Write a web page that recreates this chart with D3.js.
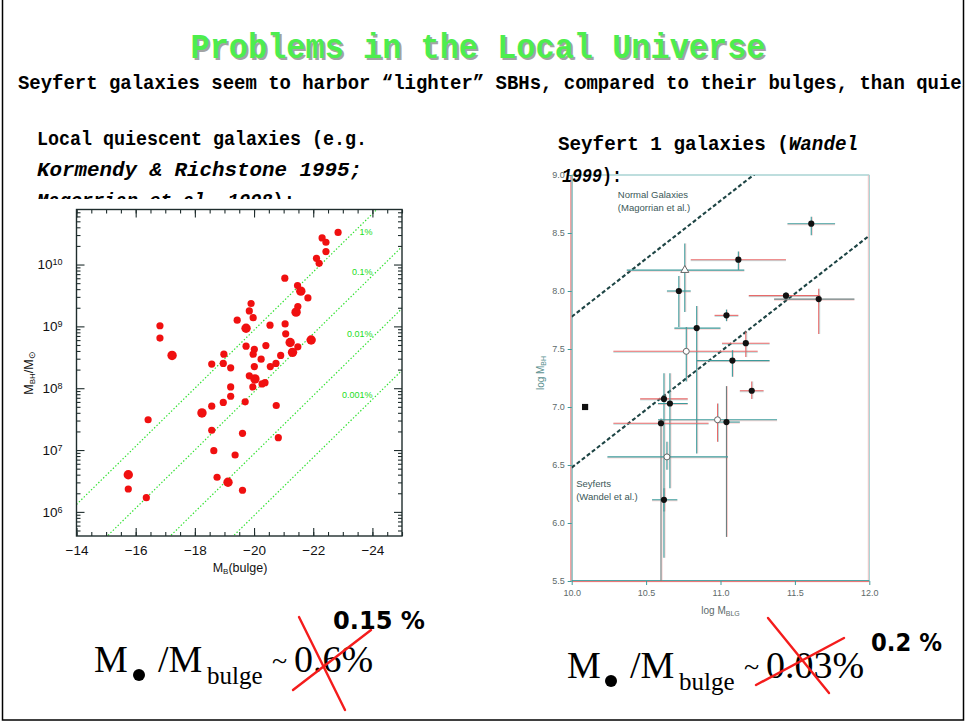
<!DOCTYPE html>
<html>
<head>
<meta charset="utf-8">
<script src="https://cdn.jsdelivr.net/npm/d3@7"></script>
<style>
  body { margin: 0; background: #fff; }
  svg { display: block; }
</style>
</head>
<body>
<script>
// ---------- Local quiescent galaxies (bulge magnitude vs. black-hole mass) ----------
const quiescentMB = [-22.84,-22.30,-22.43,-22.43,-22.11,-22.20,-21.04,-21.47,-21.58,-21.82,-21.48,-21.42,
  -19.90,-19.84,-19.97,-19.43,-20.54,-21.05,-19.73,
  -16.82,-16.82,-17.23,
  -21.07,-21.22,-21.93,-21.48,-21.30,
  -19.73,-20.01,-19.97,-20.40,-20.90,-20.24,
  -18.98,-18.96,-18.57,-19.21,-20.01,-20.55,-20.74,
  -19.84,-20.03,-19.96,-20.27,-20.37,
  -19.21,-19.21,-18.96,-18.57,-19.70,-20.75,
  -18.24,-16.42,-18.57,-19.61,-20.82,-18.64,-19.36,
  -15.75,-18.75,-19.12,-15.75,-16.36,-19.61];
const quiescentLogMbh = [10.52,10.43,10.36,10.21,10.10,10.02,9.78,9.66,9.57,9.46,9.32,9.23,
  9.37,9.25,9.14,9.10,9.02,9.04,8.97,
  9.01,8.81,8.53,
  8.88,8.74,8.78,8.67,8.58,
  8.68,8.63,8.55,8.69,8.53,8.47,
  8.55,8.40,8.39,8.33,8.35,8.35,8.40,
  8.20,8.15,8.02,8.07,8.09,
  8.02,7.87,7.77,7.71,7.78,7.72,
  7.60,7.49,7.32,7.27,7.20,6.99,6.92,
  6.60,6.56,6.48,6.37,6.23,6.35];
// 1 marks the galaxies plotted with the larger symbol
const quiescentBig = [0,0,0,0,0,0,0,0,1,0,0,1,
  0,0,0,0,0,0,1,
  0,0,1,
  0,1,1,0,1,
  0,0,0,0,0,0,
  0,0,0,0,0,0,0,
  0,1,0,0,0,
  0,0,0,0,0,0,
  1,0,0,0,0,0,0,
  1,0,1,0,0,0];
// constant M_BH / M_bulge lines; log M_bulge = zero + slope * (-M_B - 14)
const ratioValues = [0.01, 0.001, 0.0001, 0.00001];
const ratioLabels = ["1%", "0.1%", "0.01%", "0.001%"];
const bulgeMassZero = 8.12, bulgeMassSlope = 0.47;
const leftXMajor = [-14, -16, -18, -20, -22, -24];
const leftYMajor = [6, 7, 8, 9, 10];

// ---------- Seyfert 1 galaxies (Wandel 1999) ----------
const seyLogMblg  = [11.61, 11.12, 10.76, 10.72, 11.04, 10.84, 10.77, 11.17, 11.08, 11.44, 11.66, 11.21, 10.62, 10.66, 10.60, 10.98, 11.04, 10.64, 10.62];
const seyLogMbh   = [ 8.58,  8.27,  8.18,  8.00,  7.79,  7.68,  7.48,  7.55,  7.40,  7.96,  7.93,  7.14,  7.07,  7.03,  6.86,  6.89,  6.87,  6.57,  6.20];
const seyMblgLo   = [11.45, 10.80, 10.37, 10.64, 10.96, 10.69, 10.28, 11.01, 10.84, 11.19, 11.36, 11.13, 10.46, 10.58, 10.28, 10.58, 10.97, 10.24, 10.54];
const seyMblgHi   = [11.77, 11.44, 11.16, 10.80, 11.12, 11.00, 11.25, 11.33, 11.33, 11.67, 11.90, 11.29, 10.78, 10.78, 10.92, 11.38, 11.13, 11.05, 10.71];
const seyMbhLo    = [ 8.48,  8.18,  7.82,  7.69,  7.74,  6.60,  7.22,  7.43,  7.26,  7.92,  7.63,  7.07,  5.70,  6.30,  5.50,  6.70,  5.88,  6.46,  6.10];
const seyMbhHi    = [ 8.64,  8.34,  8.41,  8.13,  7.84,  7.87,  7.69,  7.65,  7.49,  7.99,  8.02,  7.22,  7.29,  7.29,  6.90,  7.03,  7.18,  6.70,  6.30];
const seyMarker   = ["dot","dot","tri","dot","dot","dot","open","dot","dot","dot","dot","dot","dot","dot","dot","open","dot","open","dot"];
const seyHColor   = ["t","r","t","t","r","t","r","r","t","r","g","r","r","t","r","t","t","t","t"];
const seyVColor   = ["t","t","t","t","t","t","t","r","t","t","r","r","t","t","g","r","g","t","t"];
const referencePoint = [10.09, 7.00];
const relationRatios = [0.006, 0.0003];
const relationLabels = [["Normal Galaxies", "(Magorrian et al.)"], ["Seyferts", "(Wandel et al.)"]];
const rightXTicks = [10.0, 10.5, 11.0, 11.5, 12.0];
const rightYTicks = [5.5, 6.0, 6.5, 7.0, 7.5, 8.0, 8.5, 9.0];

// ---------- page ----------
const W = 967, H = 724;
const mono = "'Liberation Mono','DejaVu Sans Mono',monospace";
const serif = "'Liberation Serif','Times New Roman',serif";
const sans = "'Liberation Sans',Arial,Helvetica,sans-serif";

const svg = d3.select("body").append("svg")
  .attr("width", W).attr("height", H)
  .style("font-family", sans);
svg.append("rect").attr("width", W).attr("height", H).attr("fill", "#fff");

const defs = svg.append("defs");
defs.append("clipPath").attr("id", "pageClip")
  .append("rect").attr("x", 0).attr("y", 0).attr("width", 963).attr("height", H);

// title with drop shadow
const titleText = "Problems in the Local Universe";
[["#a3a3a3", 2, 2], ["#4dee4d", 0, 0]].forEach(([c, dx, dy]) => {
  svg.append("text")
    .attr("x", 478 + dx).attr("y", 58 + dy)
    .attr("text-anchor", "middle")
    .attr("font-family", mono).attr("font-weight", "bold").attr("font-size", 35)
    .attr("textLength", 575).attr("lengthAdjust", "spacingAndGlyphs")
    .attr("fill", c).text(titleText);
});

// subtitle (runs past the right edge of the slide)
const subtitleText = "Seyfert galaxies seem to harbor \u201Clighter\u201D SBHs, compared to their bulges, than quiescent galaxies";
svg.append("text")
  .attr("clip-path", "url(#pageClip)")
  .attr("x", 18).attr("y", 89)
  .attr("font-family", mono).attr("font-weight", "bold").attr("font-size", 21)
  .attr("textLength", subtitleText.length * 11.37).attr("lengthAdjust", "spacingAndGlyphs")
  .attr("fill", "#000")
  .text(subtitleText);

// captions
function caption(x, y, parts, len) {
  const t = svg.append("text").attr("x", x).attr("y", y)
    .attr("font-family", mono).attr("font-weight", "bold").attr("font-size", 20.5).attr("fill", "#000");
  if (len) t.attr("textLength", len).attr("lengthAdjust", "spacingAndGlyphs");
  parts.forEach(([s, it]) => t.append("tspan").attr("font-style", it ? "italic" : "normal").text(s));
  return t;
}
caption(37, 145, [["Local quiescent galaxies (e.g.", false]], 330);
caption(37, 176, [["Kormendy & Richstone 1995;", true]], 325);
caption(37, 207, [["Magorrian et al. 1998", true], ["):", false]], 258);

// ================= Left figure =================
const gL = svg.append("g");
gL.append("rect").attr("x", 14).attr("y", 199).attr("width", 398).attr("height", 385).attr("fill", "#fff");

const L = { x0: 76.5, x1: 402, y0: 209.5, y1: 536 };
const xL = d3.scaleLinear().domain([-14, -25]).range([L.x0, L.x1]);
const yL = d3.scaleLog().domain([Math.pow(10, 5.61), Math.pow(10, 10.89)]).range([L.y1, L.y0]);
const frameL = "#1f2d2d";

defs.append("clipPath").attr("id", "clipL")
  .append("rect").attr("x", L.x0).attr("y", L.y0).attr("width", L.x1 - L.x0).attr("height", L.y1 - L.y0);

// constant-ratio lines
const logBulge = mb => bulgeMassZero + bulgeMassSlope * (-mb - 14);
const ratioLine = d3.line().x(d => xL(d[0])).y(d => yL(Math.pow(10, d[1])));
gL.append("g").attr("clip-path", "url(#clipL)")
  .selectAll("path").data(ratioValues).join("path")
  .attr("d", r => ratioLine([-14, -25].map(mb => [mb, logBulge(mb) + Math.log10(r)])))
  .attr("fill", "none").attr("stroke", "#2fe02f").attr("stroke-width", 1.2)
  .attr("stroke-dasharray", "1.4,2");

gL.selectAll("text.ratio").data(ratioValues).join("text")
  .attr("class", "ratio")
  .attr("x", xL(-24)).attr("text-anchor", "end")
  .attr("y", r => yL(Math.pow(10, Math.min(logBulge(-24) + Math.log10(r), 10.46))) - 1)
  .attr("font-size", 9).attr("fill", "#22dd22")
  .text((r, i) => ratioLabels[i]);

// data points
gL.append("g").selectAll("circle").data(quiescentMB).join("circle")
  .attr("cx", d => xL(d))
  .attr("cy", (d, i) => yL(Math.pow(10, quiescentLogMbh[i])))
  .attr("r", (d, i) => quiescentBig[i] ? 4.7 : 3.6)
  .attr("fill", "#f01010");

// frame
gL.append("rect").attr("x", L.x0).attr("y", L.y0).attr("width", L.x1 - L.x0).attr("height", L.y1 - L.y0)
  .attr("fill", "none").attr("stroke", frameL).attr("stroke-width", 1.4);

function tidy(g) {
  g.select(".domain").remove();
  g.selectAll(".tick line").attr("stroke", frameL).attr("stroke-width", 1.1);
}
const minorX = d3.range(-14, -25.01, -0.5);
const minorY = [];
for (let d = 5; d <= 10; d++) for (let m = 2; m <= 9; m++) {
  const v = m * Math.pow(10, d);
  if (Math.log10(v) > 5.61 && Math.log10(v) < 10.89) minorY.push(v);
}
const majorY = leftYMajor.map(e => Math.pow(10, e));

gL.append("g").attr("transform", `translate(0,${L.y1})`)
  .call(d3.axisBottom(xL).tickValues(minorX).tickSize(-4).tickFormat("")).call(tidy);
gL.append("g").attr("transform", `translate(0,${L.y0})`)
  .call(d3.axisTop(xL).tickValues(minorX).tickSize(-4).tickFormat("")).call(tidy);
gL.append("g").attr("transform", `translate(0,${L.y0})`)
  .call(d3.axisTop(xL).tickValues(leftXMajor).tickSize(-8).tickFormat("")).call(tidy);
const xAxisL = gL.append("g").attr("transform", `translate(0,${L.y1})`)
  .call(d3.axisBottom(xL).tickValues(leftXMajor).tickSize(-8).tickPadding(9)
    .tickFormat(d => "\u2212" + Math.abs(d)))
  .call(tidy);
xAxisL.selectAll(".tick text").attr("font-size", 13.5).attr("fill", "#111").attr("font-family", sans);

gL.append("g").attr("transform", `translate(${L.x0},0)`)
  .call(d3.axisLeft(yL).tickValues(minorY).tickSize(-4).tickFormat("")).call(tidy);
gL.append("g").attr("transform", `translate(${L.x1},0)`)
  .call(d3.axisRight(yL).tickValues(minorY).tickSize(-4).tickFormat("")).call(tidy);
gL.append("g").attr("transform", `translate(${L.x1},0)`)
  .call(d3.axisRight(yL).tickValues(majorY).tickSize(-8).tickFormat("")).call(tidy);
const yAxisL = gL.append("g").attr("transform", `translate(${L.x0},0)`)
  .call(d3.axisLeft(yL).tickValues(majorY).tickSize(-8).tickPadding(14).tickFormat(() => ""))
  .call(tidy);
yAxisL.selectAll(".tick text").each(function (d) {
  const t = d3.select(this).attr("font-size", 13.5).attr("fill", "#111").attr("font-family", sans);
  t.append("tspan").text("10");
  t.append("tspan").attr("dy", "-0.45em").attr("font-size", 9).text(Math.round(Math.log10(d)));
});

// axis titles
const xtL = gL.append("text").attr("x", 240).attr("y", 572).attr("text-anchor", "middle")
  .attr("font-size", 12.5).attr("fill", "#111");
xtL.append("tspan").text("M");
xtL.append("tspan").attr("dy", 2).attr("font-size", 8).text("B");
xtL.append("tspan").attr("dy", -2).text("(bulge)");

const ytL = gL.append("text").attr("transform", "translate(33,373) rotate(-90)")
  .attr("text-anchor", "middle").attr("font-size", 12.5).attr("fill", "#111");
ytL.append("tspan").text("M");
ytL.append("tspan").attr("dy", 2).attr("font-size", 8).text("BH");
ytL.append("tspan").attr("dy", -2).text("/M");
ytL.append("tspan").attr("dy", 2).attr("font-size", 9).text("\u2299");

// ================= Right figure =================
const gR = svg.append("g");
const R = { x0: 571.7, x1: 869.3, y0: 175, y1: 581 };
const xR = d3.scaleLinear().domain([10, 12]).range([R.x0, R.x1]);
const yR = d3.scaleLinear().domain([5.5, 9.0]).range([R.y1, R.y0]);
const teal = "#3d9b9b", pink = "#e86a6a", grey = "#6f7f7f";
const colorOf = { t: teal, r: pink, g: grey };
const ghostOf = { t: pink, r: teal, g: pink };

defs.append("clipPath").attr("id", "clipR")
  .append("rect").attr("x", R.x0).attr("y", R.y0).attr("width", R.x1 - R.x0).attr("height", R.y1 - R.y0);

// frame: top/right light, left/bottom with coloured fringes
gR.append("line").attr("x1", R.x0).attr("x2", R.x1).attr("y1", R.y0).attr("y2", R.y0).attr("stroke", "#a9d3d3").attr("stroke-width", 1.3);
gR.append("line").attr("x1", R.x1).attr("x2", R.x1).attr("y1", R.y0).attr("y2", R.y1).attr("stroke", "#a9d3d3").attr("stroke-width", 1.3);
gR.append("line").attr("x1", R.x1 - 1).attr("x2", R.x1 - 1).attr("y1", R.y0).attr("y2", R.y1).attr("stroke", "#f0b8b8").attr("stroke-width", 0.8);
gR.append("line").attr("x1", R.x0 - 0.8).attr("x2", R.x0 - 0.8).attr("y1", R.y0).attr("y2", R.y1).attr("stroke", pink).attr("stroke-width", 1);
gR.append("line").attr("x1", R.x0 + 0.4).attr("x2", R.x0 + 0.4).attr("y1", R.y0).attr("y2", R.y1).attr("stroke", teal).attr("stroke-width", 0.9);
gR.append("line").attr("x1", R.x0).attr("x2", R.x1).attr("y1", R.y1 + 0.6).attr("y2", R.y1 + 0.6).attr("stroke", pink).attr("stroke-width", 1);
gR.append("line").attr("x1", R.x0).attr("x2", R.x1).attr("y1", R.y1 - 0.5).attr("y2", R.y1 - 0.5).attr("stroke", teal).attr("stroke-width", 0.9);

function tidyR(g) {
  g.select(".domain").remove();
  g.selectAll(".tick line").attr("stroke", teal).attr("stroke-width", 1);
  g.selectAll(".tick text").attr("font-size", 9).attr("fill", "#5d6a6a").attr("font-family", sans);
}
gR.append("g").attr("transform", `translate(0,${R.y1})`)
  .call(d3.axisBottom(xR).tickValues(rightXTicks).tickSize(4).tickPadding(5).tickFormat(d3.format(".1f")))
  .call(tidyR);
gR.append("g").attr("transform", `translate(${R.x0},0)`)
  .call(d3.axisLeft(yR).tickValues(rightYTicks).tickSize(4).tickPadding(3).tickFormat(d3.format(".1f")))
  .call(tidyR);

// relations with constant M_BH / M_bulge
const relLine = d3.line().x(d => xR(d[0])).y(d => yR(d[1]));
gR.append("g").attr("clip-path", "url(#clipR)")
  .selectAll("path").data(relationRatios).join("path")
  .attr("d", r => relLine([10, 12].map(m => [m, m + Math.log10(r)])))
  .attr("fill", "none").attr("stroke", "#1d4444").attr("stroke-width", 2.1)
  .attr("stroke-dasharray", "4,2.4");

// relation labels
const labelAnchors = [[10.31, 8.80], [10.03, 6.31]];
relationLabels.forEach((lines, i) => {
  const t = gR.append("text").attr("x", xR(labelAnchors[i][0])).attr("y", yR(labelAnchors[i][1]))
    .attr("font-size", 9.5).attr("fill", "#3b5858");
  lines.forEach((s, k) => t.append("tspan").attr("x", xR(labelAnchors[i][0])).attr("dy", k ? 12.5 : 0).text(s));
});

// error bars
const bars = gR.append("g");
seyLogMblg.forEach((m, i) => {
  const hc = seyHColor[i], vc = seyVColor[i];
  const y = yR(seyLogMbh[i]), x = xR(m);
  // faint fringe then the bar itself
  bars.append("line").attr("x1", xR(seyMblgLo[i])).attr("x2", xR(seyMblgHi[i]))
    .attr("y1", y + 1).attr("y2", y + 1).attr("stroke", ghostOf[hc]).attr("stroke-opacity", 0.35).attr("stroke-width", 1);
  bars.append("line").attr("x1", xR(seyMblgLo[i])).attr("x2", xR(seyMblgHi[i]))
    .attr("y1", y).attr("y2", y).attr("stroke", colorOf[hc]).attr("stroke-width", 1.1);
  bars.append("line").attr("x1", x + 1).attr("x2", x + 1)
    .attr("y1", yR(seyMbhLo[i])).attr("y2", yR(seyMbhHi[i])).attr("stroke", ghostOf[vc]).attr("stroke-opacity", 0.35).attr("stroke-width", 1);
  bars.append("line").attr("x1", x).attr("x2", x)
    .attr("y1", yR(seyMbhLo[i])).attr("y2", yR(seyMbhHi[i])).attr("stroke", colorOf[vc]).attr("stroke-width", 1.1);
});

// markers
const marks = gR.append("g");
seyLogMblg.forEach((m, i) => {
  const x = xR(m), y = yR(seyLogMbh[i]);
  if (seyMarker[i] === "dot") {
    marks.append("circle").attr("cx", x).attr("cy", y).attr("r", 3.1).attr("fill", "#111");
  } else if (seyMarker[i] === "open") {
    marks.append("circle").attr("cx", x).attr("cy", y).attr("r", 3).attr("fill", "#fff").attr("stroke", "#666").attr("stroke-width", 1);
  } else {
    marks.append("path").attr("transform", `translate(${x},${y})`)
      .attr("d", d3.symbol(d3.symbolTriangle, 28)())
      .attr("fill", "#fff").attr("stroke", "#666").attr("stroke-width", 1);
  }
});
marks.append("path").attr("transform", `translate(${xR(referencePoint[0])},${yR(referencePoint[1])})`)
  .attr("d", d3.symbol(d3.symbolSquare, 38)()).attr("fill", "#111");

// axis titles
const ytR = gR.append("text").attr("transform", "translate(544,373) rotate(-90)")
  .attr("text-anchor", "middle").attr("font-size", 10).attr("fill", "#5a8f8f");
ytR.append("tspan").text("log M");
ytR.append("tspan").attr("dy", 2).attr("font-size", 7).text("BH");

const xtR = gR.append("text").attr("x", xR(11)).attr("y", 614).attr("text-anchor", "middle")
  .attr("font-size", 10).attr("fill", "#5d6a6a");
xtR.append("tspan").text("log M");
xtR.append("tspan").attr("dy", 2).attr("font-size", 7).text("BLG");

// right caption (drawn over the figure)
caption(558, 150, [["Seyfert 1 galaxies (", false], ["Wandel", true]], 300);
caption(562, 182, [["1999", true], ["):", false]], 60);

// ================= Ratio statements =================
function ratioStatement(x, y, value, dotX) {
  const g = svg.append("g");
  g.append("text").attr("x", x).attr("y", y).attr("font-family", serif).attr("font-size", 38).text("M");
  g.append("circle").attr("cx", dotX).attr("cy", y + 3).attr("r", 6).attr("fill", "#000");
  g.append("text").attr("x", dotX + 19).attr("y", y).attr("font-family", serif).attr("font-size", 38).text("/M");
  g.append("text").attr("x", dotX + 68).attr("y", y + 12).attr("font-family", serif).attr("font-size", 25).text("bulge");
  g.append("text").attr("x", dotX + 133).attr("y", y - 2).attr("font-family", serif).attr("font-size", 28).text("~");
  g.append("text").attr("x", dotX + 155).attr("y", y).attr("font-family", serif).attr("font-size", 38).text(value);
}
ratioStatement(94, 672, "0.6%", 139);
ratioStatement(567, 678, "0.03%", 611);

// corrections
const fix = svg.append("g").attr("stroke", "#f41c1c").attr("stroke-width", 2.4).attr("stroke-linecap", "round");
fix.append("line").attr("x1", 299).attr("y1", 617).attr("x2", 345).attr("y2", 710);
fix.append("line").attr("x1", 293).attr("y1", 690).attr("x2", 371).attr("y2", 630);
fix.append("line").attr("x1", 768).attr("y1", 618).attr("x2", 829).attr("y2", 693);
fix.append("line").attr("x1", 756).attr("y1", 685).attr("x2", 844).attr("y2", 638);

svg.append("text").attr("x", 333).attr("y", 629)
  .attr("font-family", "'DejaVu Sans',Verdana,sans-serif").attr("font-weight", "bold").attr("font-size", 24)
  .attr("textLength", 92).attr("lengthAdjust", "spacingAndGlyphs").text("0.15 %");
svg.append("text").attr("x", 871).attr("y", 651)
  .attr("font-family", "'DejaVu Sans',Verdana,sans-serif").attr("font-weight", "bold").attr("font-size", 24)
  .attr("textLength", 71).attr("lengthAdjust", "spacingAndGlyphs").text("0.2 %");

// slide border
svg.append("rect").attr("x", 2.5).attr("y", -4).attr("width", 961).attr("height", 724)
  .attr("fill", "none").attr("stroke", "#000").attr("stroke-width", 1.5);
</script>
</body>
</html>
